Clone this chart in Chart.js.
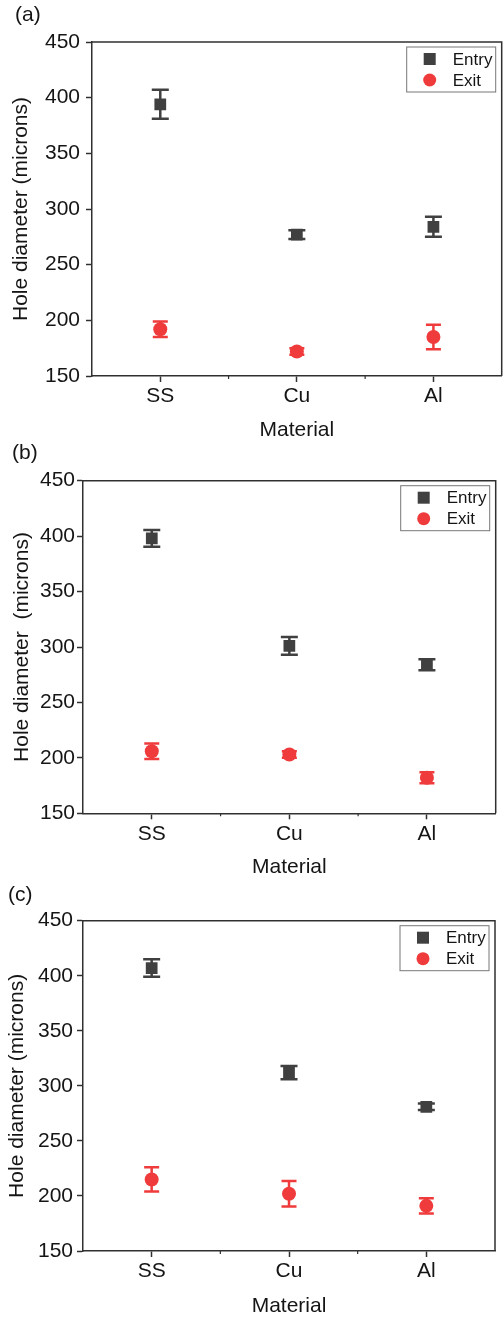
<!DOCTYPE html>
<html>
<head>
<meta charset="utf-8">
<script src="https://cdn.jsdelivr.net/npm/chart.js@4.4.1/dist/chart.umd.min.js"></script>
<style>
  html, body { margin: 0; padding: 0; background: #fff; overflow: hidden; }
  canvas { position: absolute; left: 0; }
</style>
</head>
<body>
<canvas id="chartA" width="510" height="443" style="top:0px"></canvas>
<canvas id="chartB" width="504" height="437" style="top:443px"></canvas>
<canvas id="chartC" width="504" height="439" style="top:880px"></canvas>
<script>
// Materials on the x axis (placed at 1, 2, 3)
const materials = ['SS', 'Cu', 'Al'];
const materialPos = [1, 2, 3];

// Hole diameter (microns)
const entryA = [394, 277, 284];
const entryErrA = [13, 4, 9];
const exitA = [192, 172, 185];
const exitErrA = [7, 3, 11];

const entryB = [398, 301, 284];
const entryErrB = [7.5, 8, 5];
const exitB = [206, 203, 182];
const exitErrB = [7, 3, 5];

const entryC = [407, 312, 281];
const entryErrC = [8, 6, 3];
const exitC = [215, 202, 191];
const exitErrC = [11, 11.5, 7];

const yMin = 150;
const yMax = 450;

const entryColor = '#404040';
const exitColor = '#ef3b3b';
const axisColor = '#303030';
const textColor = '#151515';

Chart.defaults.font.family = '"Liberation Sans", Arial, sans-serif';
Chart.defaults.color = textColor;

const toPoints = (values, errs) =>
  values.map((v, i) => ({ x: materialPos[i], y: v, err: errs[i] }));

// Error bars, drawn under the markers
const errorBars = {
  id: 'errorBars',
  beforeDatasetsDraw(chart) {
    const { ctx, scales: { x, y } } = chart;
    chart.data.datasets.forEach((ds) => {
      ctx.save();
      ctx.strokeStyle = ds.backgroundColor;
      ctx.lineWidth = 2.5;
      const half = ds.pointStyle === 'rect' ? 8.5 : 7.5;
      ds.data.forEach((p) => {
        const px = x.getPixelForValue(p.x);
        const top = y.getPixelForValue(p.y + p.err);
        const bot = y.getPixelForValue(p.y - p.err);
        ctx.beginPath();
        ctx.moveTo(px, top);
        ctx.lineTo(px, bot);
        ctx.moveTo(px - half, top);
        ctx.lineTo(px + half, top);
        ctx.moveTo(px - half, bot);
        ctx.lineTo(px + half, bot);
        ctx.stroke();
      });
      ctx.restore();
    });
  },
};

// Frame, minor ticks, boxed legend and panel letter
const frame = {
  id: 'frame',
  afterDraw(chart, args, opts) {
    const { ctx, chartArea: a, scales: { x, y } } = chart;
    ctx.save();
    ctx.strokeStyle = axisColor;
    ctx.lineWidth = 1.5;
    ctx.beginPath();
    ctx.moveTo(a.left, a.top);
    ctx.lineTo(a.right, a.top);
    ctx.lineTo(a.right, a.bottom);
    ctx.stroke();

    // minor ticks
    ctx.lineWidth = 1.2;
    ctx.beginPath();
    y.ticks.forEach((t) => {
      if (t.value % 50 !== 0) {
        const py = y.getPixelForValue(t.value);
        ctx.moveTo(a.left - 3, py);
        ctx.lineTo(a.left, py);
      }
    });
    x.ticks.forEach((t) => {
      if (t.value % 1 !== 0 && t.value > x.min && t.value < x.max) {
        const px = x.getPixelForValue(t.value);
        ctx.moveTo(px, a.bottom);
        ctx.lineTo(px, a.bottom + 3);
      }
    });
    ctx.stroke();

    // legend
    const boxW = 89, boxH = 45;
    const bx = a.right - 6 - boxW;
    const by = a.top + 5;
    ctx.strokeStyle = '#777';
    ctx.lineWidth = 1;
    ctx.strokeRect(bx, by, boxW, boxH);
    ctx.font = '17px "Liberation Sans", Arial, sans-serif';
    ctx.textBaseline = 'middle';
    ctx.textAlign = 'left';
    chart.data.datasets.forEach((ds, i) => {
      const ry = by + 12 + i * 21;
      ctx.fillStyle = ds.backgroundColor;
      if (ds.pointStyle === 'rect') {
        ctx.fillRect(bx + 17, ry - 6, 12, 12);
      } else {
        ctx.beginPath();
        ctx.arc(bx + 23, ry, 6.5, 0, Math.PI * 2);
        ctx.fill();
      }
      ctx.fillStyle = textColor;
      ctx.fillText(ds.label, bx + 46, ry + 1);
    });

    // panel letter
    ctx.font = '21px "Liberation Sans", Arial, sans-serif';
    ctx.fillStyle = textColor;
    ctx.fillText(opts.letter, opts.letterX, opts.letterY);
    ctx.restore();
  },
};

function makePanel(canvasId, cfg) {
  const canvas = document.getElementById(canvasId);
  new Chart(canvas, {
    type: 'scatter',
    data: {
      datasets: [
        {
          label: 'Entry',
          data: toPoints(cfg.entry, cfg.entryErr),
          pointStyle: 'rect',
          pointRadius: 8.3,
          backgroundColor: entryColor,
          borderColor: entryColor,
          borderWidth: 0,
        },
        {
          label: 'Exit',
          data: toPoints(cfg.exit, cfg.exitErr),
          pointStyle: 'circle',
          pointRadius: 7,
          backgroundColor: exitColor,
          borderColor: exitColor,
          borderWidth: 0,
        },
      ],
    },
    options: {
      responsive: false,
      animation: false,
      events: [],
      layout: {
        padding: {
          top: cfg.area.top,
          right: canvas.width - cfg.area.right,
          left: 0,
          bottom: 0,
        },
      },
      plugins: {
        legend: { display: false },
        tooltip: { enabled: false },
        frame: { letter: cfg.letter, letterX: cfg.letterX, letterY: cfg.letterY },
      },
      scales: {
        x: {
          type: 'linear',
          min: 0.5,
          max: 3.5,
          afterFit: (scale) => { scale.height = canvas.height - cfg.area.bottom; },
          ticks: {
            stepSize: 0.5,
            padding: 2,
            autoSkip: false,
            maxRotation: 0,
            font: { size: 21 },
            callback: (v) => {
              const i = materialPos.indexOf(v);
              return i >= 0 ? materials[i] : '';
            },
          },
          grid: {
            drawOnChartArea: false,
            tickLength: 6,
            tickWidth: 1.5,
            tickColor: (c) => (c.tick && c.tick.value % 1 === 0 ? axisColor : 'transparent'),
          },
          border: { color: axisColor, width: 1.5 },
          title: {
            display: true,
            text: 'Material',
            font: { size: 21 },
            padding: { top: 0, bottom: 0 },
          },
        },
        y: {
          min: yMin,
          max: yMax,
          afterFit: (scale) => { scale.width = cfg.area.left; },
          ticks: {
            stepSize: 25,
            padding: cfg.yLabelGap,
            font: { size: 21 },
            callback: (v) => (v % 50 === 0 ? v : ''),
          },
          grid: {
            drawOnChartArea: false,
            tickLength: 6,
            tickWidth: 1.5,
            tickColor: (c) => (c.tick && c.tick.value % 50 === 0 ? axisColor : 'transparent'),
          },
          border: { color: axisColor, width: 1.5 },
          title: {
            display: true,
            text: cfg.yTitle,
            font: { size: 21 },
            padding: { top: cfg.yTitlePad, bottom: 0 },
          },
        },
      },
    },
    plugins: [errorBars, frame],
  });
}

makePanel('chartA', {
  letter: '(a)', letterX: 15, letterY: 15,
  area: { left: 92, right: 507, top: 42, bottom: 376 },
  yTitle: 'Hole diameter (microns)', yTitlePad: 9, yLabelGap: 6,
  entry: entryA, entryErr: entryErrA, exit: exitA, exitErr: exitErrA,
});

makePanel('chartB', {
  letter: '(b)', letterX: 12, letterY: 10,
  area: { left: 83, right: 500, top: 37.7, bottom: 370.3 },
  yTitle: 'Hole diameter  (microns)', yTitlePad: 10, yLabelGap: 2,
  entry: entryB, entryErr: entryErrB, exit: exitB, exitErr: exitErrB,
});

makePanel('chartC', {
  letter: '(c)', letterX: 8, letterY: 15,
  area: { left: 83, right: 495, top: 40.7, bottom: 371 },
  yTitle: 'Hole diameter (microns)', yTitlePad: 5, yLabelGap: 4,
  entry: entryC, entryErr: entryErrC, exit: exitC, exitErr: exitErrC,
});
</script>
</body>
</html>
